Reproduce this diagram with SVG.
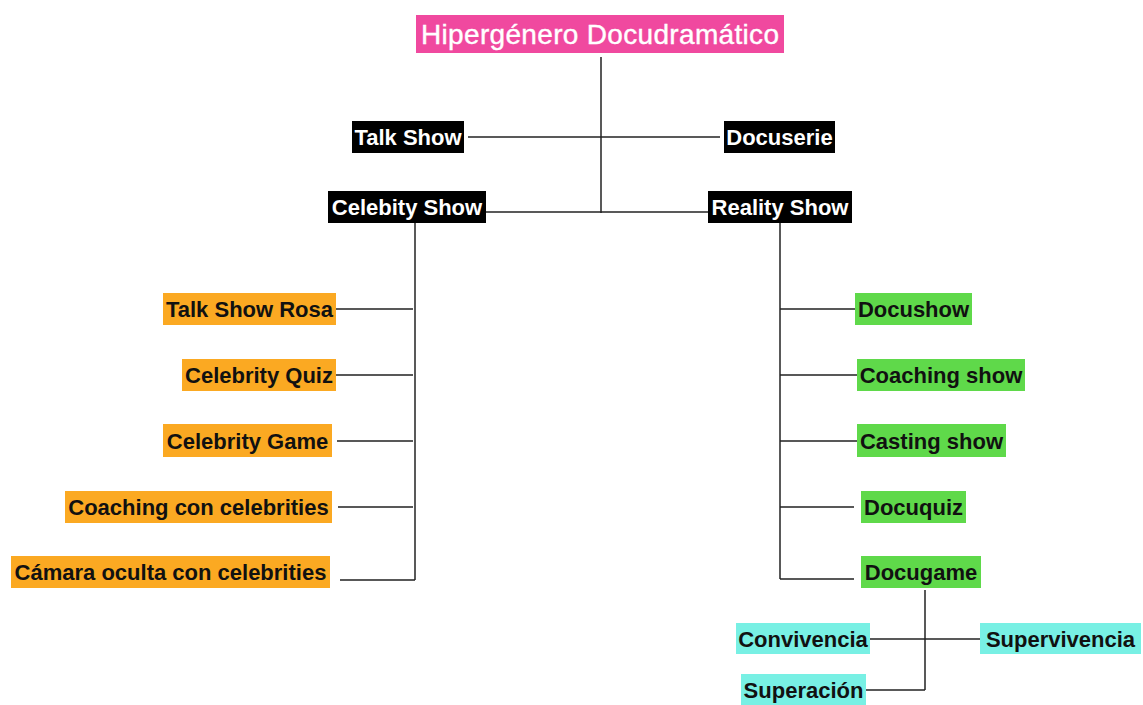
<svg xmlns="http://www.w3.org/2000/svg" width="1143" height="705" viewBox="0 0 1143 705">
<style>
text{font-family:"Liberation Sans",Arial,sans-serif;font-weight:bold;font-size:22px;text-anchor:middle}
.blk rect{fill:#000}.blk text{fill:#fff}
.org rect{fill:#FBA922}.org text{fill:#111}
.grn rect{fill:#5FD94A}.grn text{fill:#111}
.cyn rect{fill:#78F0E4}.cyn text{fill:#111}
#conn path{stroke:#222;stroke-width:1.5;fill:none}
</style>
<rect width="1143" height="705" fill="#fff"/>
<g id="conn">
<path d="M601 57V213"/>
<path d="M468 137H720"/>
<path d="M486 212H708"/>
<path d="M415 223V580"/>
<path d="M336 309H413M336 375H413M337 441H413M338 507H413M340 580H415"/>
<path d="M780 223V579"/>
<path d="M780 309H855M780 375H857M780 441H857M780 507H854M780 579H854"/>
<path d="M925 590V690"/>
<path d="M870 639H980"/>
<path d="M866 690H925"/>
</g>
<g id="root"><rect x="416" y="15" width="368" height="38" fill="#F0499F"/><text x="600" y="44" style="font-weight:normal;font-size:28px;fill:#fff;stroke:#fff;stroke-width:0.4" textLength="358">Hipergénero Docudramático</text></g>
<g id="talkshow" class="blk"><rect x="352" y="121" width="112" height="32"/><text x="408" y="145">Talk Show</text></g>
<g id="docuserie" class="blk"><rect x="724" y="121" width="111" height="32"/><text x="779.500" y="145">Docuserie</text></g>
<g id="celebity" class="blk"><rect x="328" y="191" width="158" height="32"/><text x="407" y="215">Celebity Show</text></g>
<g id="reality" class="blk"><rect x="708" y="191" width="144" height="32"/><text x="780" y="215">Reality Show</text></g>
<g id="tsrosa" class="org"><rect x="163" y="293" width="173" height="32"/><text x="249.500" y="317">Talk Show Rosa</text></g>
<g id="celquiz" class="org"><rect x="182" y="359" width="154" height="32"/><text x="259" y="383">Celebrity Quiz</text></g>
<g id="celgame" class="org"><rect x="163" y="424" width="169" height="33"/><text x="247.500" y="449">Celebrity Game</text></g>
<g id="coachcel" class="org"><rect x="65" y="491" width="267" height="32"/><text x="198.500" y="515">Coaching con celebrities</text></g>
<g id="camara" class="org"><rect x="11" y="556" width="319" height="32"/><text x="170.500" y="580">Cámara oculta con celebrities</text></g>
<g id="docushow" class="grn"><rect x="855" y="293" width="117" height="32"/><text x="913.500" y="317">Docushow</text></g>
<g id="coachshow" class="grn"><rect x="857" y="359" width="168" height="32"/><text x="941" y="383">Coaching show</text></g>
<g id="casting" class="grn"><rect x="857" y="424" width="149" height="33"/><text x="931.500" y="449">Casting show</text></g>
<g id="docuquiz" class="grn"><rect x="861" y="491" width="105" height="32"/><text x="913.500" y="515">Docuquiz</text></g>
<g id="docugame" class="grn"><rect x="861" y="556" width="120" height="32"/><text x="921" y="580">Docugame</text></g>
<g id="convivencia" class="cyn"><rect x="736" y="623" width="134" height="31"/><text x="803" y="647">Convivencia</text></g>
<g id="supervivencia" class="cyn"><rect x="980" y="623" width="161" height="31"/><text x="1060.500" y="647">Supervivencia</text></g>
<g id="superacion" class="cyn"><rect x="741" y="674" width="125" height="31"/><text x="803.500" y="698">Superación</text></g>
</svg>
